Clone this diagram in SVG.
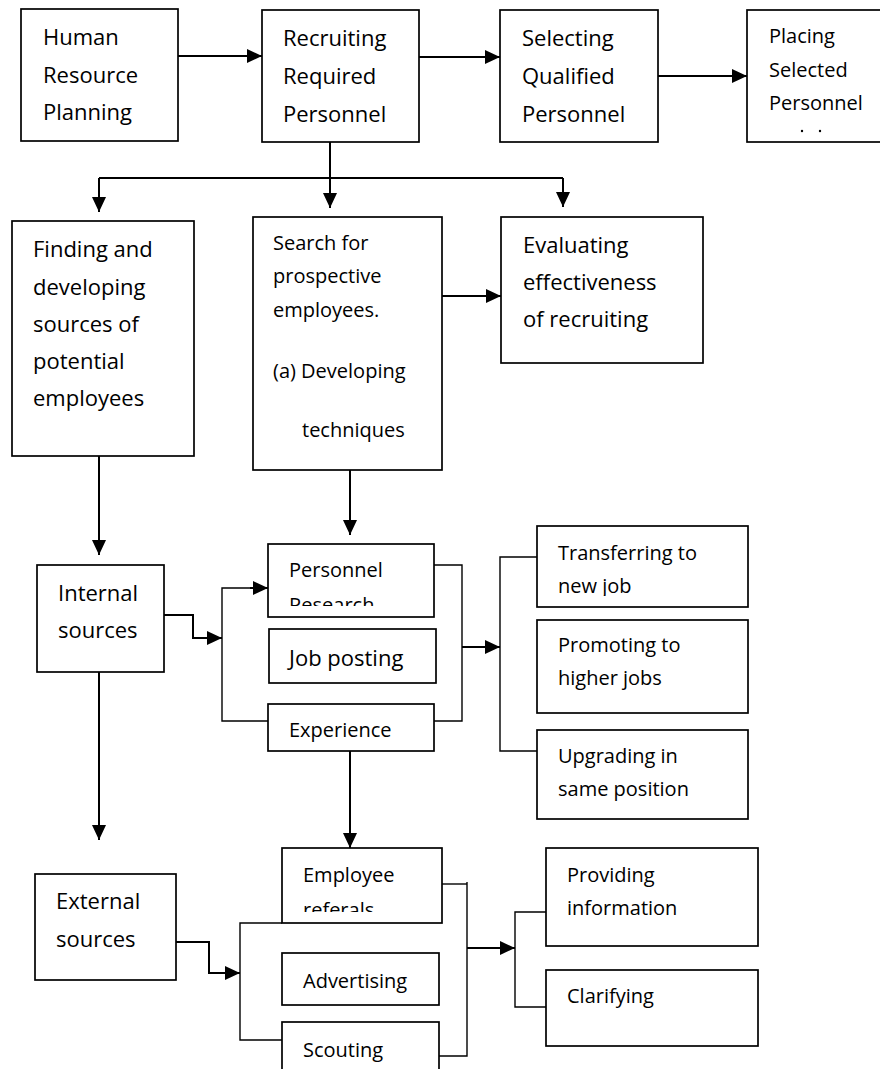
<svg xmlns="http://www.w3.org/2000/svg" width="880" height="1069" viewBox="0 0 880 1069">
  <style>
    .box { fill: #ffffff; stroke: #000000; stroke-width: 1.7; }
    .wire { fill: none; stroke: #000000; stroke-width: 2; }
    .thin { fill: none; stroke: #000000; stroke-width: 1.4; }
    text { font-family: "Open Sans", "Noto Sans", sans-serif; fill: #000000; }
    .lg { font-size: 22px; }
    .md { font-size: 20px; }
  </style>
  <defs>
    <marker id="arrow" markerUnits="userSpaceOnUse" markerWidth="15" markerHeight="14" refX="15" refY="7" orient="auto">
      <path d="M0,0 L15,7 L0,14 z" fill="#000000"/>
    </marker>
    <clipPath id="clipResearch"><rect x="268" y="544" width="166" height="62"/></clipPath>
    <clipPath id="clipTransfer"><rect x="537" y="526" width="211" height="70"/></clipPath>
    <clipPath id="clipReferral"><rect x="282" y="848" width="160" height="64"/></clipPath>
  </defs>

  <!-- connectors -->
  <g id="connectors">
    <line class="wire" x1="178" y1="56" x2="262" y2="56" marker-end="url(#arrow)"/>
    <line class="wire" x1="419" y1="57" x2="500" y2="57" marker-end="url(#arrow)"/>
    <line class="wire" x1="658" y1="76" x2="747" y2="76" marker-end="url(#arrow)"/>

    <line class="wire" x1="330" y1="142" x2="330" y2="178"/>
    <line class="wire" x1="99" y1="178" x2="563" y2="178"/>
    <line class="wire" x1="99" y1="178" x2="99" y2="212" marker-end="url(#arrow)"/>
    <line class="wire" x1="330" y1="178" x2="330" y2="208" marker-end="url(#arrow)"/>
    <line class="wire" x1="563" y1="178" x2="563" y2="207" marker-end="url(#arrow)"/>

    <line class="wire" x1="442" y1="296" x2="501" y2="296" marker-end="url(#arrow)"/>

    <line class="wire" x1="99" y1="456" x2="99" y2="555" marker-end="url(#arrow)"/>
    <line class="wire" x1="350" y1="470" x2="350" y2="535" marker-end="url(#arrow)"/>

    <polyline class="wire" points="164,615 193,615 193,638 222,638" marker-end="url(#arrow)"/>
    <polyline class="thin" points="268,721 222,721 222,588 252,588"/>
    <line class="wire" x1="250" y1="588" x2="268" y2="588" marker-end="url(#arrow)"/>

    <polyline class="thin" points="434,565 462,565 462,721 434,721"/>
    <line class="wire" x1="462" y1="647" x2="500" y2="647" marker-end="url(#arrow)"/>
    <polyline class="thin" points="537,557 500,557 500,751 537,751"/>

    <line class="wire" x1="99" y1="672" x2="99" y2="840" marker-end="url(#arrow)"/>
    <line class="wire" x1="350" y1="751" x2="350" y2="848" marker-end="url(#arrow)"/>

    <polyline class="wire" points="176,942 209,942 209,973 240,973" marker-end="url(#arrow)"/>
    <polyline class="thin" points="282,1040 240,1040 240,923 282,923"/>

    <polyline class="thin" points="442,884 467,884"/>
    <polyline class="thin" points="467,882 467,1056 439,1056"/>
    <line class="wire" x1="467" y1="948" x2="515" y2="948" marker-end="url(#arrow)"/>
    <polyline class="thin" points="546,912 515,912 515,1007 546,1007"/>
  </g>

  <!-- top row -->
  <g id="hr-planning">
    <rect class="box" x="21" y="9" width="157" height="132"/>
    <text class="lg" x="43" y="45">Human</text>
    <text class="lg" x="43" y="83">Resource</text>
    <text class="lg" x="43" y="120">Planning</text>
  </g>
  <g id="recruiting">
    <rect class="box" x="262" y="10" width="157" height="132"/>
    <text class="lg" x="283" y="46">Recruiting</text>
    <text class="lg" x="283" y="84">Required</text>
    <text class="lg" x="283" y="122">Personnel</text>
  </g>
  <g id="selecting">
    <rect class="box" x="500" y="10" width="158" height="132"/>
    <text class="lg" x="522" y="46">Selecting</text>
    <text class="lg" x="522" y="84">Qualified</text>
    <text class="lg" x="522" y="122">Personnel</text>
  </g>
  <g id="placing">
    <rect class="box" x="747" y="10" width="140" height="132"/>
    <text class="md" x="769" y="43">Placing</text>
    <text class="md" x="769" y="77">Selected</text>
    <text class="md" x="769" y="110">Personnel</text>
    <circle cx="802" cy="131" r="1.2" fill="#000000"/>
    <circle cx="820" cy="131" r="1.2" fill="#000000"/>
  </g>

  <!-- second row -->
  <g id="finding-sources">
    <rect class="box" x="12" y="221" width="182" height="235"/>
    <text class="lg" x="33" y="257">Finding and</text>
    <text class="lg" x="33" y="295">developing</text>
    <text class="lg" x="33" y="332">sources of</text>
    <text class="lg" x="33" y="369">potential</text>
    <text class="lg" x="33" y="406">employees</text>
  </g>
  <g id="search">
    <rect class="box" x="253" y="217" width="189" height="253"/>
    <text class="md" x="273" y="250">Search for</text>
    <text class="md" x="273" y="283">prospective</text>
    <text class="md" x="273" y="317">employees.</text>
    <text class="md" x="273" y="378">(a) Developing</text>
    <text class="md" x="302" y="437">techniques</text>
  </g>
  <g id="evaluating">
    <rect class="box" x="501" y="217" width="202" height="146"/>
    <text class="lg" x="523" y="253">Evaluating</text>
    <text class="lg" x="523" y="290">effectiveness</text>
    <text class="lg" x="523" y="327">of recruiting</text>
  </g>

  <!-- internal sources -->
  <g id="internal-sources">
    <rect class="box" x="37" y="565" width="127" height="107"/>
    <text class="lg" x="58" y="601">Internal</text>
    <text class="lg" x="58" y="638">sources</text>
  </g>
  <g id="personnel-research">
    <rect class="box" x="268" y="544" width="166" height="73"/>
    <g clip-path="url(#clipResearch)">
      <text class="md" x="289" y="577">Personnel</text>
      <text class="md" x="289" y="612">Research</text>
    </g>
  </g>
  <g id="job-posting">
    <rect class="box" x="269" y="629" width="167" height="54"/>
    <text class="lg" x="289" y="666">Job posting</text>
  </g>
  <g id="experience">
    <rect class="box" x="268" y="704" width="166" height="47"/>
    <text class="md" x="289" y="737">Experience</text>
  </g>
  <g id="transferring">
    <rect class="box" x="537" y="526" width="211" height="81"/>
    <g clip-path="url(#clipTransfer)">
      <text class="md" x="558" y="560">Transferring to</text>
      <text class="md" x="558" y="593">new job</text>
    </g>
  </g>
  <g id="promoting">
    <rect class="box" x="537" y="620" width="211" height="93"/>
    <text class="md" x="558" y="652">Promoting to</text>
    <text class="md" x="558" y="685">higher jobs</text>
  </g>
  <g id="upgrading">
    <rect class="box" x="537" y="730" width="211" height="89"/>
    <text class="md" x="558" y="763">Upgrading in</text>
    <text class="md" x="558" y="796">same position</text>
  </g>

  <!-- external sources -->
  <g id="external-sources">
    <rect class="box" x="35" y="874" width="141" height="106"/>
    <text class="lg" x="56" y="909">External</text>
    <text class="lg" x="56" y="947">sources</text>
  </g>
  <g id="employee-referals">
    <rect class="box" x="282" y="848" width="160" height="75"/>
    <g clip-path="url(#clipReferral)">
      <text class="md" x="303" y="882">Employee</text>
      <text class="md" x="303" y="917">referals</text>
    </g>
  </g>
  <g id="advertising">
    <rect class="box" x="282" y="953" width="157" height="52"/>
    <text class="md" x="303" y="988">Advertising</text>
  </g>
  <g id="scouting">
    <rect class="box" x="282" y="1022" width="157" height="60"/>
    <text class="md" x="303" y="1057">Scouting</text>
  </g>
  <g id="providing">
    <rect class="box" x="546" y="848" width="212" height="98"/>
    <text class="md" x="567" y="882">Providing</text>
    <text class="md" x="567" y="915">information</text>
  </g>
  <g id="clarifying">
    <rect class="box" x="546" y="970" width="212" height="76"/>
    <text class="md" x="567" y="1003">Clarifying</text>
  </g>
</svg>
